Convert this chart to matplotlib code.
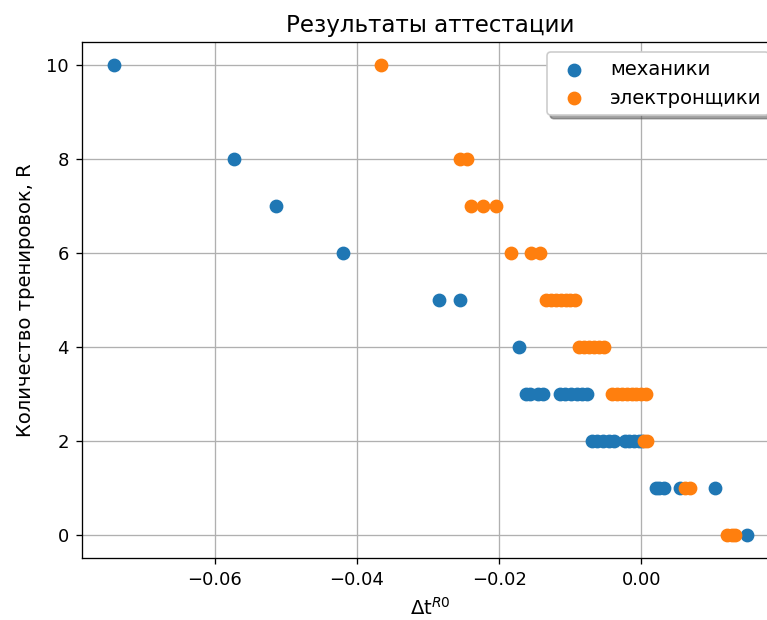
import matplotlib
matplotlib.use("Agg")
import matplotlib.pyplot as plt

# механики
mech_x = [-0.0742, -0.0573, -0.0514, -0.0419, -0.0284, -0.0255, -0.0172,
          -0.0162, -0.0156, -0.0145, -0.0139, -0.0114, -0.0107, -0.0099, -0.0090, -0.0083, -0.0077,
          -0.0070, -0.0063, -0.0054, -0.0045, -0.0039, -0.0023, -0.0017, -0.0010, -0.0003, 0.0001,
          0.0020, 0.0025, 0.0032, 0.0054, 0.0103,
          0.0149]
mech_r = [10, 8, 7, 6, 5, 5, 4,
          3, 3, 3, 3, 3, 3, 3, 3, 3, 3,
          2, 2, 2, 2, 2, 2, 2, 2, 2, 2,
          1, 1, 1, 1, 1,
          0]

# электронщики
elec_x = [-0.0366, -0.0255, -0.0245, -0.0239, -0.0222, -0.0204,
          -0.0184, -0.0155, -0.0142,
          -0.0134, -0.0127, -0.0120, -0.0113, -0.0106, -0.0100, -0.0094,
          -0.0087, -0.0080, -0.0073, -0.0066, -0.0059, -0.0052,
          -0.0041, -0.0034, -0.0027, -0.0020, -0.0013, -0.0007, -0.0001, 0.0006,
          0.0004, 0.0008,
          0.0062, 0.0069,
          0.0121, 0.0127, 0.0132]
elec_r = [10, 8, 8, 7, 7, 7,
          6, 6, 6,
          5, 5, 5, 5, 5, 5, 5,
          4, 4, 4, 4, 4, 4,
          3, 3, 3, 3, 3, 3, 3, 3,
          2, 2,
          1, 1,
          0, 0, 0]

DPI = 118
fig = plt.figure(figsize=(767 / DPI, 620 / DPI), dpi=DPI)
ax = fig.add_axes([82 / 767, 62 / 620, 697 / 767, 516 / 620])

ax.scatter(mech_x, mech_r, s=55, color='#1f77b4', label='механики', zorder=3)
ax.scatter(elec_x, elec_r, s=55, color='#ff7f0e', label='электронщики', zorder=3)

ax.grid(True, zorder=0)
ax.set_axisbelow(True)
ax.tick_params(labelsize=11, pad=4.5)
ax.set_title('Результаты аттестации', fontsize=14)
ax.set_xlabel('Δt$^{R0}$', fontsize=12, labelpad=5)
ax.set_ylabel('Количество тренировок, R', fontsize=12, labelpad=7)
ax.legend(loc='upper right', shadow=True, fontsize=12)

fig.savefig('out.png', dpi=DPI)
